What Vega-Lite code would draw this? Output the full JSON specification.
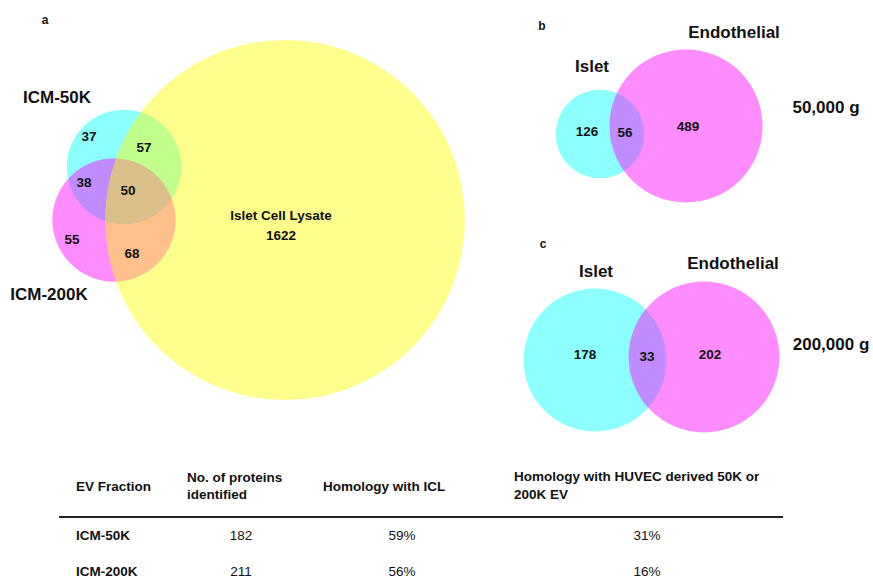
{
  "$schema": "https://vega.github.io/schema/vega-lite/v6.json",
  "width": 873,
  "height": 583,
  "autosize": {"type": "fit", "contains": "padding"},
  "padding": 0,
  "background": "white",
  "config": {
    "view": {"stroke": null},
    "font": "Liberation Sans",
    "text": {"font": "Liberation Sans", "color": "#111111"}
  },
  "datasets": {
    "sets": [
      {"panel": "a", "set": "ICM-50K", "total": 182, "cx": 124, "cy": 167},
      {"panel": "a", "set": "ICM-200K", "total": 211, "cx": 114, "cy": 220},
      {"panel": "a", "set": "Islet Cell Lysate", "total": 1797, "cx": 285, "cy": 220},
      {"panel": "b", "set": "Islet", "total": 182, "cx": 600, "cy": 134},
      {"panel": "b", "set": "Endothelial", "total": 545, "cx": 686, "cy": 126},
      {"panel": "c", "set": "Islet", "total": 211, "cx": 595, "cy": 360},
      {"panel": "c", "set": "Endothelial", "total": 235, "cx": 704, "cy": 357}
    ],
    "regions": [
      {"panel": "a", "region": "ICM-50K only", "count": "37", "cx": 89, "cy": 137},
      {"panel": "a", "region": "ICM-50K & ICL", "count": "57", "cx": 144, "cy": 148},
      {"panel": "a", "region": "ICM-50K & ICM-200K", "count": "38", "cx": 84, "cy": 183},
      {"panel": "a", "region": "all three", "count": "50", "cx": 128, "cy": 191},
      {"panel": "a", "region": "ICM-200K only", "count": "55", "cx": 72, "cy": 240},
      {"panel": "a", "region": "ICM-200K & ICL", "count": "68", "cx": 132, "cy": 254},
      {"panel": "a", "region": "ICL only", "count": "Islet Cell Lysate", "cx": 281, "cy": 216},
      {"panel": "a", "region": "ICL only", "count": "1622", "cx": 281, "cy": 236},
      {"panel": "b", "region": "Islet only", "count": "126", "cx": 587, "cy": 132},
      {"panel": "b", "region": "shared", "count": "56", "cx": 625, "cy": 133},
      {"panel": "b", "region": "Endothelial only", "count": "489", "cx": 688, "cy": 127},
      {"panel": "c", "region": "Islet only", "count": "178", "cx": 585, "cy": 355},
      {"panel": "c", "region": "shared", "count": "33", "cx": 647, "cy": 357},
      {"panel": "c", "region": "Endothelial only", "count": "202", "cx": 710, "cy": 355}
    ],
    "setLabels": [
      {"label": "ICM-50K", "cx": 57, "cy": 98},
      {"label": "ICM-200K", "cx": 49, "cy": 295},
      {"label": "Islet", "cx": 592, "cy": 67},
      {"label": "Endothelial", "cx": 734, "cy": 33},
      {"label": "50,000 g", "cx": 826, "cy": 108},
      {"label": "Islet", "cx": 596, "cy": 272},
      {"label": "Endothelial", "cx": 733, "cy": 264},
      {"label": "200,000 g", "cx": 831, "cy": 345}
    ],
    "panelTags": [
      {"tag": "a", "cx": 45, "cy": 20},
      {"tag": "b", "cx": 542, "cy": 26},
      {"tag": "c", "cx": 543, "cy": 244}
    ],
    "tableHeader": [
      {"text": "EV Fraction", "cx": 76, "cy": 487},
      {"text": "No. of proteins", "cx": 187, "cy": 478},
      {"text": "identified", "cx": 187, "cy": 495},
      {"text": "Homology with ICL", "cx": 323, "cy": 487},
      {"text": "Homology with HUVEC derived 50K or", "cx": 514, "cy": 477},
      {"text": "200K EV", "cx": 514, "cy": 495},
      {"text": "ICM-50K", "cx": 76, "cy": 536},
      {"text": "ICM-200K", "cx": 76, "cy": 572}
    ],
    "tableCells": [
      {"text": "182", "cx": 241, "cy": 536},
      {"text": "59%", "cx": 402, "cy": 536},
      {"text": "31%", "cx": 647, "cy": 536},
      {"text": "211", "cx": 241, "cy": 572},
      {"text": "56%", "cx": 402, "cy": 572},
      {"text": "16%", "cx": 647, "cy": 572}
    ],
    "tableRule": [
      {"x1": 59, "x2": 783, "y": 517}
    ]
  },
  "encoding": {
    "x": {"field": "cx", "type": "quantitative", "scale": {"domain": [0, 873], "nice": false, "zero": false}, "axis": null},
    "y": {"field": "cy", "type": "quantitative", "scale": {"domain": [0, 583], "nice": false, "zero": false, "reverse": true}, "axis": null}
  },
  "layer": [
    {
      "data": {"name": "sets"},
      "transform": [{"filter": "datum.panel === 'a'"}],
      "mark": {"type": "point", "shape": "circle", "filled": true, "opacity": 0.45, "strokeWidth": 0},
      "encoding": {
        "size": {"field": "total", "type": "quantitative", "scale": {"domain": [0, 1000], "range": [0, 72066]}, "legend": null},
        "color": {"field": "set", "type": "nominal", "scale": {"domain": ["ICM-50K", "Islet", "ICM-200K", "Endothelial", "Islet Cell Lysate"], "range": ["#00ffff", "#00ffff", "#ff00ff", "#ff00ff", "#ffff00"]}, "legend": null}
      }
    },
    {
      "data": {"name": "sets"},
      "transform": [{"filter": "datum.panel === 'b'"}],
      "mark": {"type": "point", "shape": "circle", "filled": true, "opacity": 0.45, "strokeWidth": 0},
      "encoding": {
        "size": {"field": "total", "type": "quantitative", "scale": {"domain": [0, 1000], "range": [0, 43036]}, "legend": null},
        "color": {"field": "set", "type": "nominal", "legend": null}
      }
    },
    {
      "data": {"name": "sets"},
      "transform": [{"filter": "datum.panel === 'c'"}],
      "mark": {"type": "point", "shape": "circle", "filled": true, "opacity": 0.45, "strokeWidth": 0},
      "encoding": {
        "size": {"field": "total", "type": "quantitative", "scale": {"domain": [0, 1000], "range": [0, 96766]}, "legend": null},
        "color": {"field": "set", "type": "nominal", "legend": null}
      }
    },
    {
      "data": {"name": "regions"},
      "mark": {"type": "text", "fontSize": 13.5, "fontWeight": "bold", "align": "center", "baseline": "middle"},
      "encoding": {"text": {"field": "count"}}
    },
    {
      "data": {"name": "setLabels"},
      "mark": {"type": "text", "fontSize": 17, "fontWeight": "bold", "align": "center", "baseline": "middle"},
      "encoding": {"text": {"field": "label"}}
    },
    {
      "data": {"name": "panelTags"},
      "mark": {"type": "text", "fontSize": 12, "fontWeight": "bold", "align": "center", "baseline": "middle"},
      "encoding": {"text": {"field": "tag"}}
    },
    {
      "data": {"name": "tableHeader"},
      "mark": {"type": "text", "fontSize": 13.5, "fontWeight": "bold", "align": "left", "baseline": "middle"},
      "encoding": {"text": {"field": "text"}}
    },
    {
      "data": {"name": "tableCells"},
      "mark": {"type": "text", "fontSize": 13.5, "fontWeight": "normal", "align": "center", "baseline": "middle"},
      "encoding": {"text": {"field": "text"}}
    },
    {
      "data": {"name": "tableRule"},
      "mark": {"type": "rule", "strokeWidth": 2, "color": "#222222"},
      "encoding": {
        "x": {"field": "x1", "type": "quantitative"},
        "x2": {"field": "x2"},
        "y": {"field": "y", "type": "quantitative"}
      }
    }
  ],
  "resolve": {"scale": {"size": "independent"}}
}
